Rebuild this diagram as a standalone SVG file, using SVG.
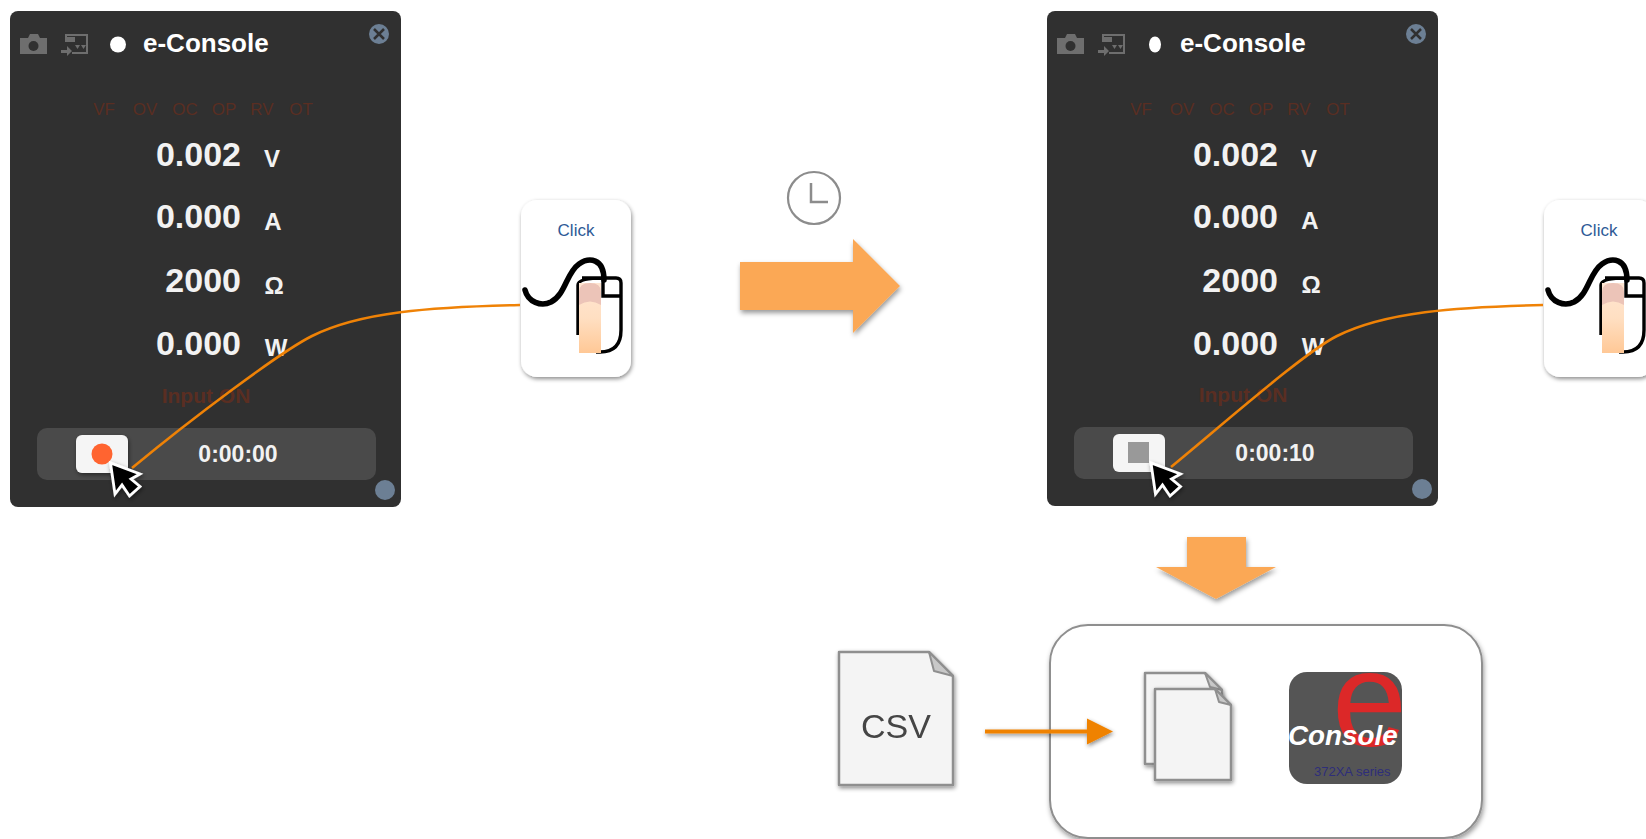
<svg xmlns="http://www.w3.org/2000/svg" width="1646" height="839" viewBox="0 0 1646 839">
<style>
text{font-family:"Liberation Sans",Arial,sans-serif}
.title{font-size:26px;font-weight:700;fill:#fff}
.flag{font-size:17px;fill:#5a2e22;text-anchor:middle}
.val{font-size:34px;font-weight:700;fill:#f2f2f2;text-anchor:end}
.unit{font-size:24px;font-weight:700;fill:#f2f2f2;text-anchor:middle}
.inp{font-size:21px;font-weight:700;fill:#5a2e22;text-anchor:middle}
.time{font-size:23px;font-weight:700;fill:#f2f2f2;text-anchor:middle}
.click{font-size:17px;fill:#2d5a96;text-anchor:middle}
.doc{fill:#f4f4f4;stroke:#8f8f8f;stroke-width:2.5;stroke-linejoin:round}
.fold{fill:#c8c8c8;stroke:#8f8f8f;stroke-width:2;stroke-linejoin:round}
.curve{fill:none;stroke:#ef8206;stroke-width:2.6}
</style>
<defs>
<filter id="sh" x="-20%" y="-20%" width="140%" height="140%"><feDropShadow dx="1" dy="3" stdDeviation="2.5" flood-color="#000" flood-opacity="0.4"/></filter>
<filter id="shc" x="-30%" y="-30%" width="160%" height="160%"><feDropShadow dx="1" dy="2" stdDeviation="2" flood-color="#000" flood-opacity="0.45"/></filter>
<linearGradient id="finger" x1="0" y1="0" x2="0" y2="1"><stop offset="0" stop-color="#ffe6d2"/><stop offset="0.5" stop-color="#ffdfc2"/><stop offset="1" stop-color="#ffc896"/></linearGradient>
<clipPath id="logoClip"><rect x="1289" y="672" width="113" height="112" rx="18"/></clipPath>
<g id="mouse">
<path d="M525 290C528 302 541 307 551 302C566 294 566 273 579 264C589 257 604 258 604 280" fill="none" stroke="#000" stroke-width="5.500" stroke-linecap="round"/>
<path d="M603 278V296H621M603 278H616Q621 278 621 283V330Q621 352 600 352H596M582 278H603Q578 278 578 285V335" fill="none" stroke="#000" stroke-width="3.400"/>
<rect x="579" y="283" width="22" height="70" fill="url(#finger)"/>
<path d="M579 305V292Q579 283 590 283Q601 283 601 292V305Q590 298 579 305Z" fill="#ecc4b8"/>
</g>
<path id="cursor" d="M110.500 463L115 494L122 485L129.500 496L140 486.500L131 479L140 474Z" fill="#000" stroke="#fff" stroke-width="2.800" stroke-linejoin="miter" filter="url(#shc)"/>
<g id="camera"><path d="M20 38H28L30 34H38L40 38H47V54H20Z" fill="#6e6e6e"/><circle cx="33.500" cy="46" r="5" fill="#303030"/></g>
<g id="screen"><path d="M66 42V35H87V53H72" fill="none" stroke="#6e6e6e" stroke-width="2"/><rect x="67" y="37" width="8" height="5" fill="#6e6e6e"/><path d="M75 45H80L77.500 49ZM81 45H86L83.500 49Z" fill="#6e6e6e"/><path d="M61 50H67V46L72 51L67 56V53H61Z" fill="#6e6e6e"/></g>
</defs>
<rect width="1646" height="839" fill="#fff"/>

<g id="panel-start">
<rect x="10" y="11" width="391" height="496" rx="8" fill="#303030"/>
<use href="#camera"/><use href="#screen"/>
<circle cx="118" cy="44.500" r="8" fill="#fff"/>
<text class="title" x="143" y="52">e-Console</text>
<circle cx="379" cy="34" r="10" fill="#6c7f94"/>
<path d="M374 29L384 39M384 29L374 39" stroke="#303030" stroke-width="2.500"/>
<text class="flag" x="104" y="115">VF</text><text class="flag" x="145" y="115">OV</text><text class="flag" x="185" y="115">OC</text><text class="flag" x="224" y="115">OP</text><text class="flag" x="262" y="115">RV</text><text class="flag" x="301" y="115">OT</text>
<text class="val" x="241" y="166">0.002</text><text class="unit" x="272" y="167">V</text>
<text class="val" x="241" y="228">0.000</text><text class="unit" x="273" y="230">A</text>
<text class="val" x="241" y="292">2000</text><text class="unit" x="274" y="294">Ω</text>
<text class="val" x="241" y="355">0.000</text><text class="unit" x="276" y="356">W</text>
<text class="inp" x="206" y="403">Input ON</text>
<rect x="37" y="428" width="339" height="52" rx="10" fill="#4a4a4a"/>
<rect x="76" y="435" width="52" height="38" rx="6" fill="#f5f5f5" filter="url(#shc)"/>
<circle cx="102" cy="454" r="10.500" fill="#ff6430"/>
<text class="time" x="238" y="462">0:00:00</text>
<circle cx="385" cy="490" r="10" fill="#6c7f94"/>
</g>

<g id="panel-stop">
<rect x="1047" y="11" width="391" height="495" rx="8" fill="#303030"/>
<use href="#camera" x="1037"/><use href="#screen" x="1037"/>
<ellipse cx="1155" cy="44.500" rx="6" ry="8" fill="#fff"/>
<text class="title" x="1180" y="52">e-Console</text>
<circle cx="1416" cy="34" r="10" fill="#6c7f94"/>
<path d="M1411 29L1421 39M1421 29L1411 39" stroke="#303030" stroke-width="2.500"/>
<text class="flag" x="1141" y="115">VF</text><text class="flag" x="1182" y="115">OV</text><text class="flag" x="1222" y="115">OC</text><text class="flag" x="1261" y="115">OP</text><text class="flag" x="1299" y="115">RV</text><text class="flag" x="1338" y="115">OT</text>
<text class="val" x="1278" y="166">0.002</text><text class="unit" x="1309" y="167">V</text>
<text class="val" x="1278" y="228">0.000</text><text class="unit" x="1310" y="229">A</text>
<text class="val" x="1278" y="292">2000</text><text class="unit" x="1311" y="293">Ω</text>
<text class="val" x="1278" y="355">0.000</text><text class="unit" x="1313" y="355">W</text>
<text class="inp" x="1243" y="402">Input ON</text>
<rect x="1074" y="427" width="339" height="52" rx="10" fill="#4a4a4a"/>
<rect x="1113" y="434" width="52" height="38" rx="6" fill="#f5f5f5"/>
<rect x="1128" y="442" width="21" height="21" fill="#999"/>
<text class="time" x="1275" y="461">0:00:10</text>
<circle cx="1422" cy="489" r="10" fill="#6c7f94"/>
</g>

<g id="mouse-1">
<rect x="521" y="200" width="110" height="177" rx="16" fill="#fff" filter="url(#shc)"/>
<text class="click" x="576" y="236">Click</text>
<use href="#mouse"/>
</g>
<g id="mouse-2">
<rect x="1544" y="200" width="110" height="177" rx="16" fill="#fff" filter="url(#shc)"/>
<text class="click" x="1599" y="236">Click</text>
<use href="#mouse" x="1023"/>
</g>

<g id="clock">
<circle cx="814" cy="198" r="26" fill="#fff" stroke="#8c8c8c" stroke-width="2.200"/>
<path d="M811 183V202H828" fill="none" stroke="#8c8c8c" stroke-width="2.500"/>
</g>
<path id="arrow-right" d="M740 262H853V239L900 286L853 333V310H740Z" fill="#fba855" filter="url(#sh)"/>
<path id="arrow-down" d="M1187 537H1246V567H1276L1216 599L1156 567H1187Z" fill="#fba855" filter="url(#sh)"/>

<rect id="app-box" x="1050" y="625" width="432" height="213" rx="38" fill="#fff" stroke="#8f8f8f" stroke-width="2" filter="url(#sh)"/>

<g id="csv" filter="url(#shc)">
<path class="doc" d="M839 652H929L953 676V785H839Z"/>
<path class="fold" d="M929 652L953 676L934 671Z"/>
<text x="896" y="738" font-size="34" fill="#444" text-anchor="middle">CSV</text>
</g>
<g id="files">
<g filter="url(#shc)">
<path class="doc" d="M1145 673H1205L1222 690V764H1145Z"/>
<path class="fold" d="M1205 673L1222 690L1210 687Z"/>
</g>
<g filter="url(#shc)">
<path class="doc" d="M1155 689H1215L1231 705V780H1155Z"/>
<path class="fold" d="M1215 689L1231 705L1219 702Z"/>
</g>
</g>
<g id="logo">
<rect x="1289" y="672" width="113" height="112" rx="18" fill="#555"/>
<g clip-path="url(#logoClip)"><text x="1332" y="746" font-size="135" fill="#dc2828">e</text></g>
<text x="1288" y="745" font-size="27.800" font-weight="700" font-style="italic" fill="#fff">Console</text>
<text x="1314" y="776" font-size="13" fill="#2e2e7a">372XA series</text>
</g>

<g id="connectors">
<path class="curve" d="M520 305C430 307 360 312 312 336C280 352 190 420 132 468"/>
<path class="curve" d="M1543 305C1455 307 1385 312 1337 336C1305 352 1228 420 1171 467"/>
<g filter="url(#shc)">
<path d="M985 731.500H1088" stroke="#ef8206" stroke-width="4" fill="none"/>
<path d="M1087 718.500L1113 731.500L1087 744.500Z" fill="#ef8206"/>
</g>
</g>
<use href="#cursor"/>
<use href="#cursor" x="1040.500"/>
</svg>
